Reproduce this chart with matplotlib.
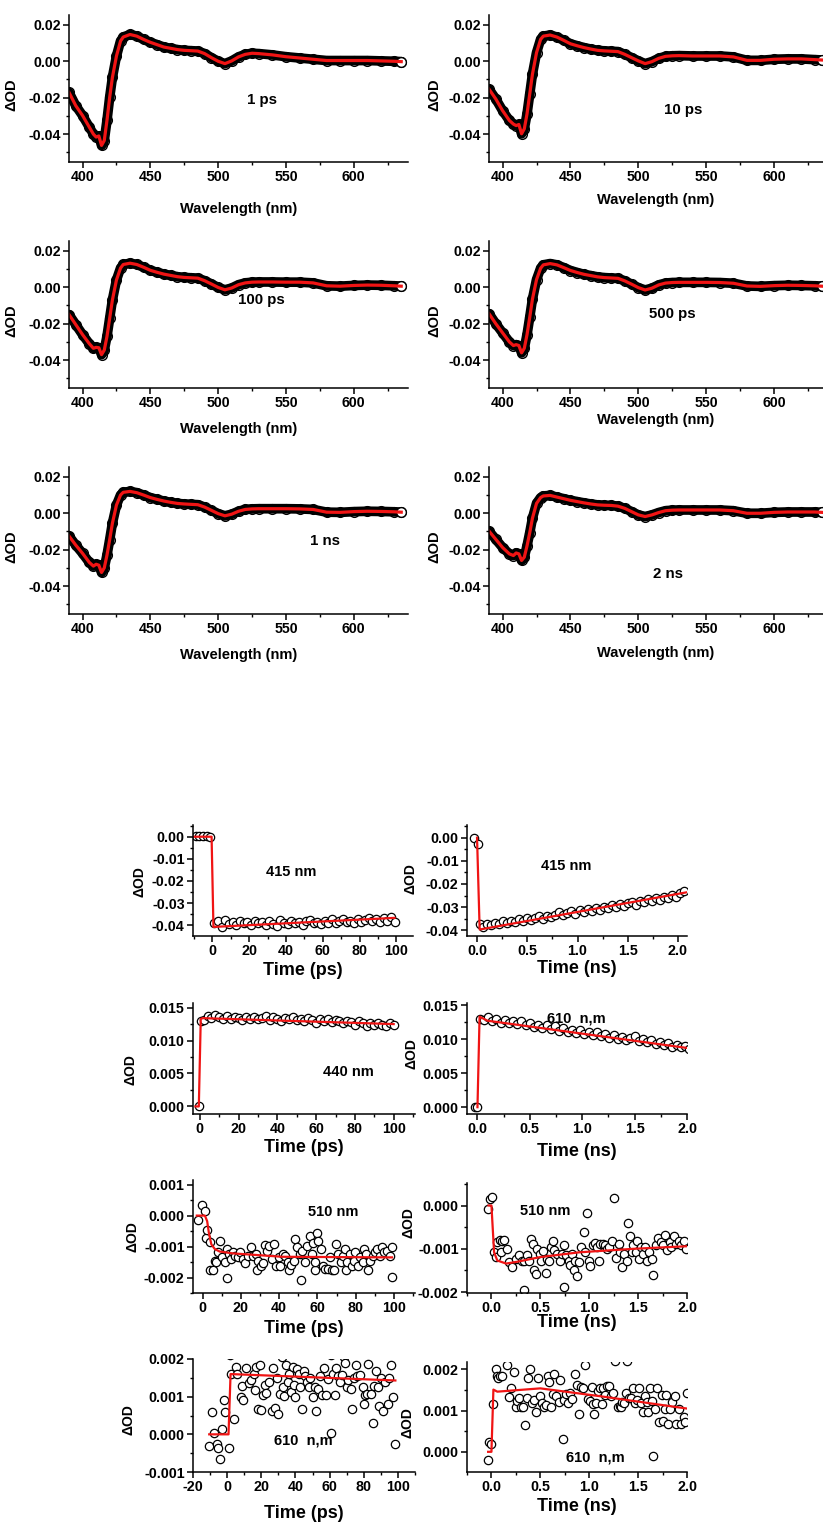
import matplotlib
matplotlib.use("Agg")
import matplotlib.pyplot as plt
from matplotlib.ticker import MultipleLocator, FuncFormatter

plt.rcParams["font.family"] = ["Liberation Sans", "DejaVu Sans"]
plt.rcParams["font.weight"] = "bold"
plt.rcParams["axes.labelweight"] = "bold"
plt.rcParams["axes.unicode_minus"] = False

FIG_W, FIG_H = 823, 1522
RED = "#f01414"

# transient spectra at six delays
wavelength = [390, 395, 400, 405, 408, 410, 412, 414, 416, 418,
              420, 422, 425, 428, 430, 435, 440, 445, 450, 455,
              460, 465, 470, 475, 480, 485, 490, 495, 500, 505,
              510, 515, 520, 525, 530, 540, 550, 560, 570, 580,
              590, 600, 610, 620, 630, 635]

od_1ps = [-0.0171, -0.0244, -0.0298, -0.0362, -0.0400, -0.0416, -0.0410, -0.0462, -0.0435, -0.0325,
          -0.0198, -0.0089, 0.0029, 0.0111, 0.0133, 0.0147, 0.0138, 0.0120, 0.0104, 0.0091,
          0.0078, 0.0071, 0.0064, 0.0060, 0.0058, 0.0056, 0.0042, 0.0020, 0.0000, -0.0013,
          0.0002, 0.0024, 0.0038, 0.0044, 0.0042, 0.0035, 0.0025, 0.0018, 0.0011, 0.0004,
          0.0004, 0.0004, 0.0004, 0.0002, 0.0000, -0.0002]

od_10ps = [-0.0153, -0.0207, -0.0271, -0.0325, -0.0345, -0.0353, -0.0347, -0.0398, -0.0371, -0.0289,
           -0.0180, -0.0071, 0.0047, 0.0120, 0.0138, 0.0144, 0.0133, 0.0115, 0.0096, 0.0085,
           0.0075, 0.0067, 0.0060, 0.0057, 0.0055, 0.0053, 0.0038, 0.0020, 0.0002, -0.0013,
           -0.0002, 0.0016, 0.0027, 0.0030, 0.0031, 0.0029, 0.0029, 0.0029, 0.0024, 0.0005,
           0.0005, 0.0011, 0.0013, 0.0013, 0.0009, 0.0007]

od_100ps = [-0.0150, -0.0205, -0.0260, -0.0310, -0.0335, -0.0330, -0.0332, -0.0370, -0.0345, -0.0270,
            -0.0170, -0.0070, 0.0040, 0.0105, 0.0125, 0.0132, 0.0125, 0.0110, 0.0093, 0.0082,
            0.0072, 0.0065, 0.0058, 0.0054, 0.0052, 0.0050, 0.0036, 0.0018, -0.0001, -0.0014,
            -0.0004, 0.0014, 0.0024, 0.0028, 0.0029, 0.0029, 0.0028, 0.0028, 0.0024, 0.0008,
            0.0006, 0.0010, 0.0012, 0.0011, 0.0008, 0.0006]

od_500ps = [-0.0145, -0.0200, -0.0250, -0.0300, -0.0320, -0.0315, -0.0320, -0.0360, -0.0335, -0.0260,
            -0.0165, -0.0065, 0.0042, 0.0104, 0.0123, 0.0130, 0.0123, 0.0108, 0.0092, 0.0081,
            0.0071, 0.0064, 0.0057, 0.0053, 0.0051, 0.0049, 0.0035, 0.0017, -0.0002, -0.0015,
            -0.0005, 0.0013, 0.0023, 0.0026, 0.0027, 0.0027, 0.0027, 0.0026, 0.0022, 0.0007,
            0.0005, 0.0009, 0.0011, 0.0010, 0.0008, 0.0006]

od_1ns = [-0.0125, -0.0175, -0.0220, -0.0270, -0.0290, -0.0280, -0.0285, -0.0325, -0.0300, -0.0230,
          -0.0145, -0.0055, 0.0045, 0.0100, 0.0115, 0.0120, 0.0113, 0.0100, 0.0086, 0.0076,
          0.0067, 0.0060, 0.0054, 0.0051, 0.0049, 0.0047, 0.0034, 0.0016, -0.0002, -0.0014,
          -0.0005, 0.0011, 0.0021, 0.0024, 0.0025, 0.0025, 0.0025, 0.0024, 0.0021, 0.0006,
          0.0005, 0.0009, 0.0011, 0.0010, 0.0008, 0.0006]

od_2ns = [-0.0098, -0.0143, -0.0188, -0.0223, -0.0232, -0.0218, -0.0223, -0.0259, -0.0241, -0.0179,
          -0.0107, -0.0027, 0.0054, 0.0086, 0.0095, 0.0098, 0.0089, 0.0080, 0.0071, 0.0064,
          0.0057, 0.0051, 0.0046, 0.0044, 0.0043, 0.0039, 0.0027, 0.0009, -0.0009, -0.0018,
          -0.0009, 0.0004, 0.0014, 0.0017, 0.0018, 0.0018, 0.0018, 0.0018, 0.0014, 0.0000,
          0.0000, 0.0005, 0.0007, 0.0007, 0.0007, 0.0005]

# kinetics, 415 nm, ps window
t_415_ps = [-9, -7, -5, -3, -1, 1, 3, 5, 7, 9,
            11, 13, 15, 17, 19, 21, 23, 25, 27, 29,
            31, 33, 35, 37, 39, 41, 43, 45, 47, 49,
            51, 53, 55, 57, 59, 61, 63, 65, 67, 69,
            71, 73, 75, 77, 79, 81, 83, 85, 87, 89,
            91, 93, 95, 97, 99]
od_415_ps = [0.0004, 0.0002, 0.0005, 0.0001, 0.0000, -0.0392, -0.0383, -0.0410, -0.0378, -0.0395,
             -0.0386, -0.0401, -0.0380, -0.0392, -0.0384, -0.0398, -0.0379, -0.0390, -0.0387, -0.0399,
             -0.0382, -0.0393, -0.0402, -0.0377, -0.0389, -0.0396, -0.0381, -0.0392, -0.0385, -0.0397,
             -0.0379, -0.0376, -0.0391, -0.0384, -0.0394, -0.0380, -0.0388, -0.0374, -0.0390, -0.0383,
             -0.0370, -0.0387, -0.0379, -0.0391, -0.0372, -0.0384, -0.0377, -0.0366, -0.0381, -0.0371,
             -0.0386, -0.0368, -0.0379, -0.0363, -0.0385]
fit_t_415_ps = [-10, -0.4, 0.6, 99]
fit_415_ps = [0.0, 0.0, -0.0408, -0.0367]

# kinetics, 415 nm, ns window
t_415_ns = [-0.026, 0.007, 0.033, 0.06, 0.10, 0.14, 0.18, 0.22, 0.26, 0.30,
            0.34, 0.38, 0.42, 0.46, 0.50, 0.54, 0.58, 0.62, 0.66, 0.70,
            0.74, 0.78, 0.82, 0.86, 0.90, 0.94, 0.98, 1.02, 1.06, 1.10,
            1.14, 1.18, 1.22, 1.26, 1.30, 1.34, 1.38, 1.42, 1.46, 1.50,
            1.54, 1.58, 1.62, 1.66, 1.70, 1.74, 1.78, 1.82, 1.86, 1.90,
            1.94, 1.98, 2.02, 2.06]
od_415_ns = [0.0000, -0.0029, -0.0371, -0.0384, -0.0372, -0.0379, -0.0368, -0.0375, -0.0362, -0.0370,
             -0.0358, -0.0366, -0.0353, -0.0361, -0.0349, -0.0357, -0.0345, -0.0340, -0.0351, -0.0338,
             -0.0344, -0.0333, -0.0322, -0.0336, -0.0327, -0.0319, -0.0331, -0.0313, -0.0320, -0.0308,
             -0.0316, -0.0303, -0.0311, -0.0298, -0.0305, -0.0292, -0.0300, -0.0287, -0.0295, -0.0283,
             -0.0278, -0.0289, -0.0272, -0.0280, -0.0266, -0.0275, -0.0260, -0.0268, -0.0255, -0.0262,
             -0.0249, -0.0256, -0.0241, -0.0230]
fit_t_415_ns = [0.0, 0.026, 2.1]
fit_415_ns = [0.0, -0.0397, -0.0235]

# kinetics, 440 nm, ps window
t_440_ps = [-0.3, 0.5, 2, 4, 6, 8, 10, 12, 14, 16,
            18, 20, 22, 24, 26, 28, 30, 32, 34, 36,
            38, 40, 42, 44, 46, 48, 50, 52, 54, 56,
            58, 60, 62, 64, 66, 68, 70, 72, 74, 76,
            78, 80, 82, 84, 86, 88, 90, 92, 94, 96,
            98, 100]
od_440_ps = [0.0000, 0.0130, 0.0131, 0.0137, 0.0134, 0.0139, 0.0135, 0.0133, 0.0137, 0.0132,
             0.0136, 0.0134, 0.0131, 0.0135, 0.0133, 0.0136, 0.0132, 0.0134, 0.0138, 0.0131,
             0.0135, 0.0133, 0.0130, 0.0134, 0.0132, 0.0135, 0.0131, 0.0133, 0.0129, 0.0134,
             0.0131, 0.0127, 0.0132, 0.0130, 0.0133, 0.0128, 0.0131, 0.0129, 0.0126, 0.0130,
             0.0128, 0.0124, 0.0129, 0.0127, 0.0122, 0.0126, 0.0123, 0.0127, 0.0124, 0.0122,
             0.0126, 0.0124]
fit_t_440_ps = [-2.2, -0.5, 0.5, 1.7, 100]
fit_440_ps = [0.0, 0.0, 0.0133, 0.0134, 0.0125]

# kinetics, 440 nm, ns window
t_440_ns = [-0.02, 0.0, 0.02, 0.06, 0.10, 0.14, 0.18, 0.22, 0.26, 0.30,
            0.34, 0.38, 0.42, 0.46, 0.50, 0.54, 0.58, 0.62, 0.66, 0.70,
            0.74, 0.78, 0.82, 0.86, 0.90, 0.94, 0.98, 1.02, 1.06, 1.10,
            1.14, 1.18, 1.22, 1.26, 1.30, 1.34, 1.38, 1.42, 1.46, 1.50,
            1.54, 1.58, 1.62, 1.66, 1.70, 1.74, 1.78, 1.82, 1.86, 1.90,
            1.94, 1.98, 2.02]
od_440_ns = [0.0000, 0.0000, 0.0130, 0.0128, 0.0133, 0.0126, 0.0129, 0.0124, 0.0128, 0.0123,
             0.0126, 0.0122, 0.0127, 0.0120, 0.0124, 0.0118, 0.0121, 0.0117, 0.0120, 0.0115,
             0.0119, 0.0112, 0.0116, 0.0111, 0.0114, 0.0109, 0.0113, 0.0108, 0.0111, 0.0106,
             0.0110, 0.0104, 0.0107, 0.0102, 0.0106, 0.0100, 0.0103, 0.0099, 0.0102, 0.0104,
             0.0097, 0.0100, 0.0095, 0.0098, 0.0093, 0.0096, 0.0091, 0.0094, 0.0089, 0.0092,
             0.0088, 0.0090, 0.0086]
fit_t_440_ns = [0.0, 0.02, 0.095, 2.0]
fit_440_ns = [0.0, 0.0133, 0.0127, 0.0087]

# kinetics, 510 nm, ps window
t_510_ps = [-2.6, -0.5, 1.2, 1.7, 2.4, 3.8, 3.8, 5.5, 6.4, 7.2,
            8.1, 8.9, 10.3, 11.5, 12.7, 12.9, 13.7, 14.9, 15.8, 17.2,
            18.4, 19.6, 21.0, 22.3, 23.5, 25.3, 26.5, 27.8, 28.3, 29.2,
            30.4, 31.6, 32.6, 33.8, 34.7, 36.1, 37.3, 38.5, 39.9, 40.7,
            41.9, 43.3, 44.7, 45.4, 46.4, 47.6, 48.5, 49.3, 51.0, 51.4,
            52.2, 53.3, 54.5, 56.2, 57.0, 57.9, 58.5, 58.8, 59.6, 60.5,
            61.9, 63.1, 63.9, 65.3, 66.5, 67.7, 68.7, 69.9, 70.8, 72.2,
            73.4, 74.2, 75.2, 75.6, 76.8, 78.0, 79.0, 79.7, 81.1, 82.5,
            83.7, 84.5, 85.4, 86.2, 87.6, 88.8, 90.0, 91.4, 92.8, 93.5,
            94.8, 96.6, 97.9, 99.1, 99.2]
od_510_ps = [-0.00013, 0.00033, 0.00014, -0.00073, -0.00045, -0.00084, -0.00176, -0.00176, -0.00146, -0.00151,
             -0.00119, -0.00082, -0.00135, -0.00151, -0.00109, -0.00200, -0.00124, -0.00140, -0.00116, -0.00130,
             -0.00135, -0.00116, -0.00140, -0.00154, -0.00130, -0.00103, -0.00130, -0.00124, -0.00176, -0.00146,
             -0.00162, -0.00154, -0.00095, -0.00114, -0.00098, -0.00140, -0.00093, -0.00162, -0.00135, -0.00162,
             -0.00124, -0.00130, -0.00151, -0.00176, -0.00159, -0.00146, -0.00077, -0.00103, -0.00124, -0.00207,
             -0.00114, -0.00151, -0.00098, -0.00066, -0.00124, -0.00087, -0.00176, -0.00151, -0.00055, -0.00082,
             -0.00109, -0.00162, -0.00172, -0.00172, -0.00135, -0.00176, -0.00176, -0.00093, -0.00124, -0.00151,
             -0.00130, -0.00109, -0.00176, -0.00151, -0.00124, -0.00162, -0.00146, -0.00119, -0.00162, -0.00135,
             -0.00151, -0.00109, -0.00124, -0.00176, -0.00146, -0.00130, -0.00116, -0.00109, -0.00130, -0.00103,
             -0.00119, -0.00114, -0.00130, -0.00103, -0.00198]
fit_t_510_ps = [-3.0, 1.2, 2.4, 3.4, 4.6, 6.4, 8.9, 15.8, 41.6, 99]
fit_510_ps = [0.0, 0.0, -0.00018, -0.00060, -0.00093, -0.00108, -0.00116, -0.00122, -0.00133, -0.00135]

# kinetics, 510 nm, ns window
t_510_ns = [-0.04, -0.014, 0.01, 0.027, 0.044, 0.061, 0.088, 0.095, 0.112, 0.13,
            0.156, 0.18, 0.213, 0.247, 0.28, 0.315, 0.33, 0.33, 0.36, 0.383,
            0.407, 0.427, 0.44, 0.46, 0.468, 0.495, 0.508, 0.53, 0.553, 0.57,
            0.586, 0.61, 0.63, 0.644, 0.67, 0.698, 0.72, 0.74, 0.746, 0.766,
            0.79, 0.807, 0.824, 0.84, 0.858, 0.875, 0.898, 0.92, 0.942, 0.96,
            0.976, 0.993, 1.01, 1.037, 1.06, 1.078, 1.095, 1.11, 1.14, 1.163,
            1.18, 1.207, 1.23, 1.254, 1.275, 1.30, 1.315, 1.34, 1.356, 1.383,
            1.40, 1.417, 1.434, 1.45, 1.478, 1.49, 1.51, 1.525, 1.553, 1.57,
            1.586, 1.613, 1.637, 1.655, 1.688, 1.705, 1.73, 1.756, 1.773, 1.797,
            1.824, 1.84, 1.865, 1.89, 1.92, 1.94, 1.966, 1.986]
od_510_ns = [-0.00008, 0.00014, 0.00020, -0.00108, -0.00119, -0.00085, -0.00080, -0.00108, -0.00083, -0.00080,
             -0.00100, -0.00130, -0.00142, -0.00123, -0.00114, -0.00129, -0.00196, -0.00127, -0.00115, -0.00127,
             -0.00077, -0.00089, -0.00149, -0.00158, -0.00100, -0.00111, -0.00127, -0.00106, -0.00156, -0.00123,
             -0.00129, -0.00096, -0.00081, -0.00102, -0.00111, -0.00127, -0.00111, -0.00187, -0.00092, -0.00114,
             -0.00127, -0.00138, -0.00111, -0.00149, -0.00129, -0.00163, -0.00130, -0.00096, -0.00062, -0.00108,
             -0.00017, -0.00129, -0.00140, -0.00092, -0.00086, -0.00096, -0.00127, -0.00090, -0.00089, -0.00092,
             -0.00100, -0.00096, -0.00081, 0.00017, -0.00121, -0.00090, -0.00107, -0.00142, -0.00111, -0.00127,
             -0.00041, -0.00071, -0.00108, -0.00092, -0.00108, -0.00083, -0.00123, -0.00096, -0.00111, -0.00096,
             -0.00129, -0.00108, -0.00124, -0.00161, -0.00092, -0.00076, -0.00085, -0.00092, -0.00069, -0.00102,
             -0.00085, -0.00096, -0.00071, -0.00089, -0.00083, -0.00092, -0.00081, -0.00100]
fit_t_510_ns = [-0.03, 0.0, 0.027, 0.06, 0.15, 0.26, 0.5, 0.9, 1.45, 2.0]
fit_510_ns = [0.0, 0.0, -0.00108, -0.00127, -0.00134, -0.00130, -0.00119, -0.00108, -0.00100, -0.00094]

# kinetics, 610 nm, ps window
t_610_ps = [-10.5, -9.0, -7.5, -6.0, -5.5, -4.0, -3.0, -2.0, -1.0, 1.0,
            1.8, 2.4, 4.3, 5.3, 6.0, 8.0, 8.9, 9.3, 11.2, 12.6,
            14.2, 15.6, 16.2, 16.8, 18.1, 19.1, 20.1, 21.0, 22.0, 23.0,
            24.7, 26.0, 27.0, 28.0, 29.0, 30.0, 31.0, 32.3, 32.5, 33.5,
            34.5, 35.7, 36.5, 37.3, 38.3, 38.9, 40.0, 40.8, 41.8, 42.8,
            43.8, 44.8, 45.8, 46.7, 47.7, 48.7, 50.3, 51.3, 52.3, 53.0,
            54.6, 55.6, 56.6, 57.8, 59.0, 60.6, 60.6, 62.0, 63.0, 64.0,
            65.0, 66.0, 67.5, 68.5, 68.8, 70.0, 70.8, 72.4, 73.4, 74.4,
            75.3, 76.3, 77.9, 79.3, 79.9, 80.9, 81.8, 82.6, 84.2, 85.2,
            86.2, 87.2, 88.2, 89.2, 90.1, 91.1, 92.5, 94.1, 95.0, 96.0,
            97.0, 98.0]
od_610_ps = [-0.00030, 0.00060, 0.00003, -0.00025, -0.00036, -0.00065, 0.00014, 0.00090, 0.00060, -0.00036,
             0.00210, 0.00160, 0.00040, 0.00180, 0.00160, 0.00100, 0.00128, 0.00090, 0.00175, 0.00135,
             0.00145, 0.00160, 0.00118, 0.00180, 0.00066, 0.00185, 0.00065, 0.00105, 0.00130, 0.00110,
             0.00140, 0.00062, 0.00175, 0.00071, 0.00150, 0.00055, 0.00107, 0.00205, 0.00125, 0.00103,
             0.00185, 0.00140, 0.00160, 0.00113, 0.00180, 0.00130, 0.00100, 0.00174, 0.00160, 0.00125,
             0.00068, 0.00167, 0.00156, 0.00140, 0.00125, 0.00150, 0.00100, 0.00125, 0.00062, 0.00120,
             0.00156, 0.00104, 0.00175, 0.00104, 0.00148, 0.00003, 0.00210, 0.00160, 0.00104, 0.00175,
             0.00155, 0.00140, 0.00158, 0.00205, 0.00190, 0.00125, 0.00145, 0.00120, 0.00066, 0.00150,
             0.00185, 0.00155, 0.00158, 0.00125, 0.00080, 0.00104, 0.00107, 0.00187, 0.00107, 0.00030,
             0.00128, 0.00167, 0.00125, 0.00076, 0.00150, 0.00062, 0.00140, 0.00080, 0.00150, 0.00185,
             0.00100, -0.00025]
fit_t_610_ps = [-10.5, 0.8, 2.0, 98.5]
fit_610_ps = [0.0, 0.0, 0.00160, 0.00143]

# kinetics, 610 nm, ns window
t_610_ns = [-0.034, -0.024, 0.0, 0.02, 0.044, 0.061, 0.071, 0.088, 0.112, 0.156,
            0.18, 0.203, 0.23, 0.247, 0.264, 0.28, 0.30, 0.325, 0.34, 0.36,
            0.373, 0.39, 0.417, 0.434, 0.458, 0.475, 0.50, 0.52, 0.535, 0.56,
            0.576, 0.593, 0.61, 0.63, 0.644, 0.664, 0.688, 0.705, 0.732, 0.746,
            0.766, 0.786, 0.807, 0.824, 0.858, 0.875, 0.898, 0.915, 0.936, 0.96,
            0.983, 1.003, 1.027, 1.037, 1.05, 1.07, 1.09, 1.11, 1.13, 1.146,
            1.163, 1.18, 1.20, 1.22, 1.24, 1.264, 1.29, 1.31, 1.32, 1.34,
            1.356, 1.376, 1.39, 1.41, 1.424, 1.444, 1.468, 1.485, 1.512, 1.525,
            1.545, 1.57, 1.586, 1.60, 1.62, 1.644, 1.654, 1.67, 1.695, 1.715,
            1.74, 1.756, 1.773, 1.79, 1.807, 1.83, 1.85, 1.875, 1.89, 1.92,
            1.94, 1.966, 1.983, 2.0]
od_610_ns = [-0.00020, 0.00024, 0.00020, 0.00116, 0.00200, 0.00184, 0.00180, 0.00184, 0.00184, 0.00210,
             0.00134, 0.00156, 0.00194, 0.00108, 0.00124, 0.00130, 0.00109, 0.00109, 0.00065, 0.00130,
             0.00180, 0.00200, 0.00118, 0.00126, 0.00097, 0.00178, 0.00135, 0.00118, 0.00108, 0.00113,
             0.00184, 0.00170, 0.00108, 0.00140, 0.00188, 0.00135, 0.00121, 0.00174, 0.00032, 0.00125,
             0.00140, 0.00118, 0.00143, 0.00127, 0.00190, 0.00162, 0.00092, 0.00158, 0.00156, 0.00210,
             0.00127, 0.00124, 0.00158, 0.00116, 0.00092, 0.00118, 0.00148, 0.00156, 0.00116, 0.00156,
             0.00138, 0.00160, 0.00160, 0.00135, 0.00142, 0.00220, 0.00108, 0.00111, 0.00108, 0.00121,
             0.00118, 0.00142, 0.00220, 0.00130, 0.00130, 0.00154, 0.00119, 0.00125, 0.00154, 0.00118,
             0.00097, 0.00135, 0.00121, 0.00097, 0.00154, 0.00124, -0.00010, 0.00103, 0.00156, 0.00073,
             0.00138, 0.00075, 0.00105, 0.00138, 0.00067, 0.00103, 0.00121, 0.00135, 0.00067, 0.00103,
             0.00067, 0.00085, 0.00073, 0.00142]
fit_t_610_ns = [-0.034, 0.0, 0.02, 0.06, 0.5, 1.11, 2.0]
fit_610_ns = [0.0, 0.0, 0.00151, 0.00146, 0.00154, 0.00135, 0.00105]


def place(fig, x0, y0, x1, y1):
    """Add axes from a pixel box (left, top, right, bottom)."""
    return fig.add_axes([x0 / FIG_W, 1 - y1 / FIG_H, (x1 - x0) / FIG_W, (y1 - y0) / FIG_H])


def fmt(digits):
    def f(v, _):
        s = f"{v:.{digits}f}"
        return s[1:] if s.startswith("-") and float(s) == 0 else s
    return FuncFormatter(f)


def style_axes(ax, xmajor, xminor, xdigits, ymajor, yminor, ydigits, size):
    for side in ("top", "right"):
        ax.spines[side].set_visible(False)
    for side in ("left", "bottom"):
        ax.spines[side].set_linewidth(1.1)
    ax.xaxis.set_major_locator(MultipleLocator(xmajor))
    ax.xaxis.set_minor_locator(MultipleLocator(xminor))
    ax.yaxis.set_major_locator(MultipleLocator(ymajor))
    ax.yaxis.set_minor_locator(MultipleLocator(yminor))
    ax.xaxis.set_major_formatter(fmt(xdigits))
    ax.yaxis.set_major_formatter(fmt(ydigits))
    ax.tick_params(which="major", direction="out", length=4, width=1.1, labelsize=size, pad=2)
    ax.tick_params(which="minor", direction="out", length=2.2, width=1.0)
    for lab in ax.get_xticklabels() + ax.get_yticklabels():
        lab.set_fontweight("bold")


def spectrum_panel(fig, box, od, label, label_at, xmax, ylabel_x, xlabel_y):
    ax = place(fig, *box)
    ax.plot(wavelength, od, color="black", lw=7, solid_capstyle="round", solid_joinstyle="round")
    ax.plot(wavelength, od, "o", ms=7, mfc="none", mec="black", mew=1)
    ax.plot(wavelength[-1], od[-1], "o", ms=7, mfc="white", mec="black", mew=1)
    ax.plot(wavelength, od, color=RED, lw=2.3)
    ax.set_xlim(390, xmax)
    ax.set_ylim(-0.0553, 0.0254)
    style_axes(ax, 50, 25, 0, 0.02, 0.01, 2, 10.2)
    ax.set_ylabel("ΔOD", fontsize=10.5, fontweight="bold")
    ax.yaxis.set_label_coords(ylabel_x, 0.46)
    ax.set_xlabel("Wavelength (nm)", fontsize=10.5, fontweight="bold", va="center")
    ax.xaxis.set_label_coords(0.5, xlabel_y)
    ax.text(*label_at, label, fontsize=10.8, fontweight="bold", ha="center", va="center")
    return ax


def kinetic_panel(fig, box, t, od, fit_t, fit_od, xlim, ylim, xticks, yticks,
                  xlabel, label, label_at, ylabel_at, xlabel_y):
    ax = place(fig, *box)
    ax.plot(t, od, "o", ms=6, mfc="white", mec="black", mew=0.9)
    ax.plot(fit_t, fit_od, color=RED, lw=1.6)
    ax.set_xlim(*xlim)
    ax.set_ylim(*ylim)
    style_axes(ax, *xticks, *yticks, 10.3)
    ax.set_ylabel("ΔOD", fontsize=10, fontweight="bold")
    ax.yaxis.set_label_coords(*ylabel_at)
    ax.set_xlabel(xlabel, fontsize=13, fontweight="bold", va="center")
    ax.xaxis.set_label_coords(0.5, xlabel_y)
    ax.text(*label_at, label, fontsize=10.5, fontweight="bold", ha="center", va="center")
    return ax


fig = plt.figure(figsize=(FIG_W / 100, FIG_H / 100), dpi=100)

# spectra: left column ends at 640 nm, right column at 636 nm
spectrum_panel(fig, (69, 15, 408, 162), od_1ps, "1 ps", (532, -0.021), 640, -0.150, -0.32)
spectrum_panel(fig, (489, 15, 823, 162), od_10ps, "10 ps", (533, -0.027), 636, -0.142, -0.26)
spectrum_panel(fig, (69, 241, 408, 388), od_100ps, "100 ps", (532, -0.0072), 640, -0.150, -0.28)
spectrum_panel(fig, (489, 241, 823, 388), od_500ps, "500 ps", (525, -0.0148), 636, -0.142, -0.22)
spectrum_panel(fig, (69, 467, 408, 614), od_1ns, "1 ns", (579, -0.0151), 640, -0.150, -0.28)
spectrum_panel(fig, (489, 467, 823, 614), od_2ns, "2 ns", (522, -0.0336), 636, -0.142, -0.265)

# kinetic traces
kinetic_panel(fig, (193, 825, 413, 936), t_415_ps, od_415_ps, fit_t_415_ps, fit_415_ps,
              (-10.5, 109), (-0.0449, 0.0053), (20, 10, 0), (0.01, 0.005, 2),
              "Time (ps)", "415 nm", (42.7, -0.0159), (-0.21, 0.49), -0.31)
kinetic_panel(fig, (467, 825, 687, 936), t_415_ns, od_415_ns, fit_t_415_ns, fit_415_ns,
              (-0.1, 2.09), (-0.0425, 0.0055), (0.5, 0.25, 1), (0.01, 0.005, 2),
              "Time (ns)", "415 nm", (0.89, -0.0123), (-0.227, 0.52), -0.295)
kinetic_panel(fig, (193, 1003, 415, 1114), t_440_ps, od_440_ps, fit_t_440_ps, fit_440_ps,
              (-3.5, 111), (-0.00115, 0.0157), (20, 10, 0), (0.005, 0.0025, 3),
              "Time (ps)", "440 nm", (76.7, 0.00527), (-0.25, 0.40), -0.30)
kinetic_panel(fig, (467, 1003, 687, 1114), t_440_ns, od_440_ns, fit_t_440_ns, fit_440_ns,
              (-0.1, 2.0), (-0.001, 0.0153), (0.5, 0.25, 1), (0.005, 0.0025, 3),
              "Time (ns)", "610  n,m", (0.946, 0.01305), (-0.22, 0.545), -0.34)
kinetic_panel(fig, (193, 1180, 415, 1293), t_510_ps, od_510_ps, fit_t_510_ps, fit_510_ps,
              (-5, 111), (-0.0025, 0.00115), (20, 10, 0), (0.001, 0.0005, 3),
              "Time (ps)", "510 nm", (68.5, 0.00012), (-0.24, 0.50), -0.318)
kinetic_panel(fig, (467, 1183, 687, 1293), t_510_ns, od_510_ns, fit_t_510_ns, fit_510_ns,
              (-0.25, 2.0), (-0.00202, 0.00052), (0.5, 0.25, 1), (0.001, 0.0005, 3),
              "Time (ns)", "510 nm", (0.55, -0.00013), (-0.235, 0.64), -0.27)
kinetic_panel(fig, (193, 1359, 415, 1472), t_610_ps, od_610_ps, fit_t_610_ps, fit_610_ps,
              (-20, 110), (-0.001, 0.002), (20, 10, 0), (0.001, 0.0005, 3),
              "Time (ps)", "610  n,m", (44.6, -0.00017), (-0.26, 0.46), -0.367)
kinetic_panel(fig, (467, 1362, 687, 1472), t_610_ns, od_610_ns, fit_t_610_ns, fit_610_ns,
              (-0.25, 2.0), (-0.00049, 0.00218), (0.5, 0.25, 1), (0.001, 0.0005, 3),
              "Time (ns)", "610  n,m", (1.06, -0.00014), (-0.239, 0.45), -0.318)

fig.savefig("out.png", dpi=100)
